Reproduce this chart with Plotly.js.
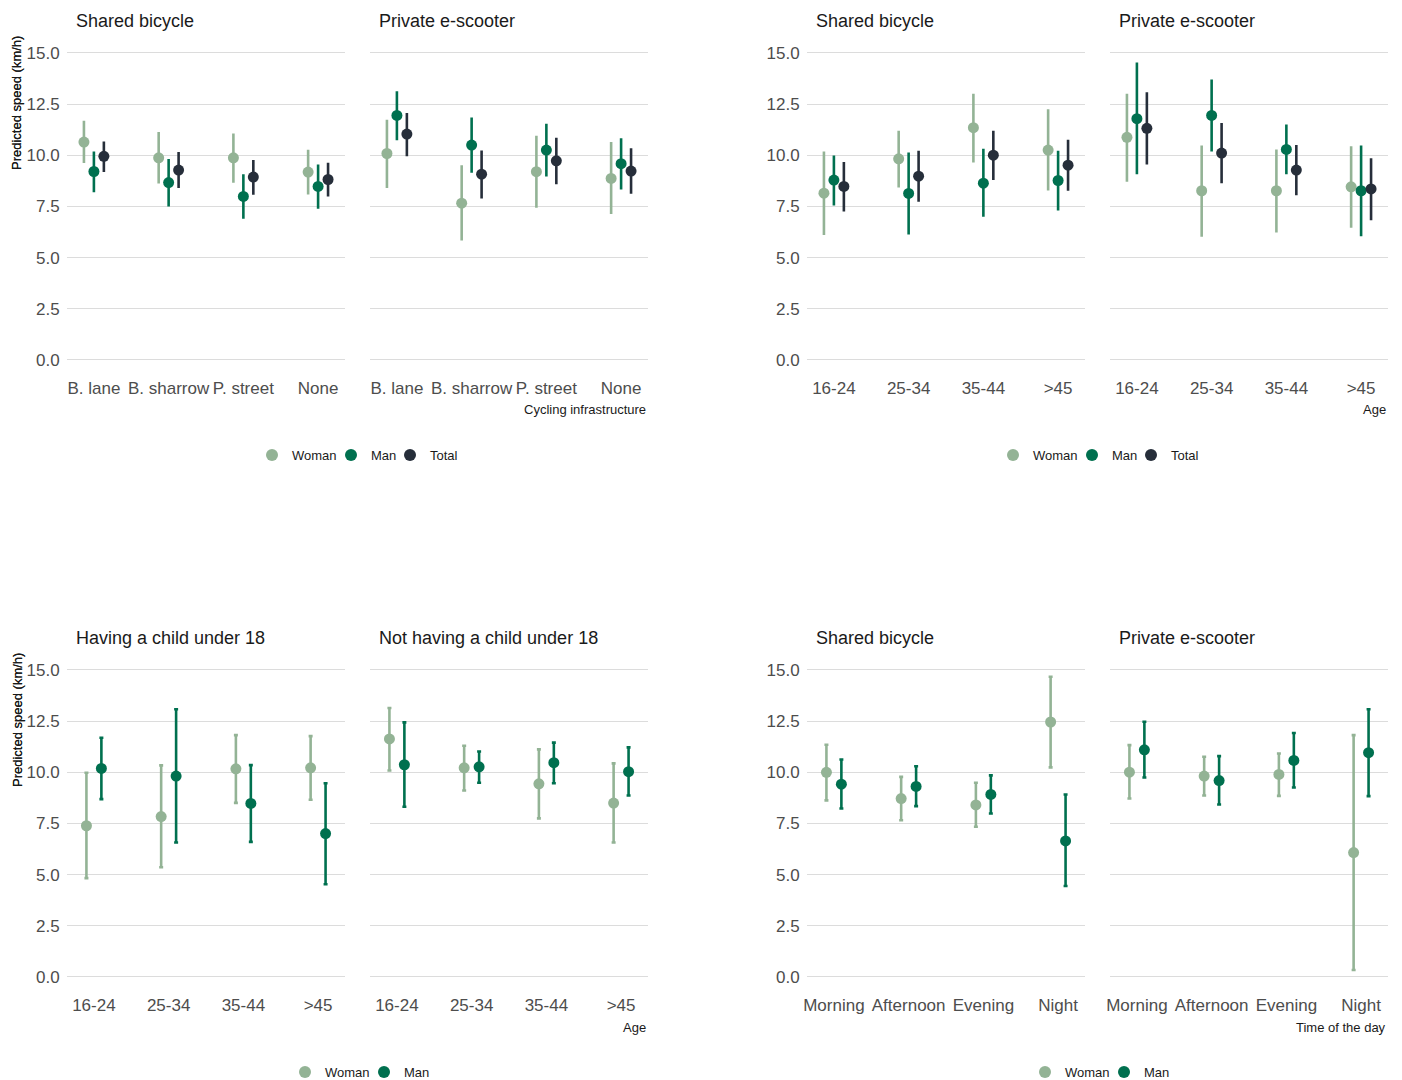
<!DOCTYPE html>
<html><head><meta charset="utf-8">
<script src="https://cdn.plot.ly/plotly-3.0.1.min.js"></script>
<style>html,body{margin:0;padding:0;background:#fff}#chart{width:1402px;height:1080px}</style>
</head><body><div id="chart"></div><script>
// ---------- categories ----------
const infraCats = ["B. lane", "B. sharrow", "P. street", "None"];
const ageCats = ["16-24", "25-34", "35-44", ">45"];
const timeCats = ["Morning", "Afternoon", "Evening", "Night"];

// ---------- Cycling infrastructure: Shared bicycle ----------
const infraBikeWoman   = [10.65, 9.88, 9.88, 9.18];
const infraBikeWomanLo = [9.62, 8.63, 8.66, 8.09];
const infraBikeWomanHi = [11.69, 11.14, 11.07, 10.27];
const infraBikeMan     = [9.21, 8.67, 7.99, 8.48];
const infraBikeManLo   = [8.20, 7.50, 6.90, 7.39];
const infraBikeManHi   = [10.19, 9.82, 9.08, 9.55];
const infraBikeTotal   = [9.95, 9.28, 8.94, 8.82];
const infraBikeTotalLo = [9.18, 8.40, 8.07, 7.99];
const infraBikeTotalHi = [10.68, 10.16, 9.77, 9.64];
// ---------- Cycling infrastructure: Private e-scooter ----------
const infraScootWoman   = [10.09, 7.66, 9.20, 8.87];
const infraScootWomanLo = [8.41, 5.84, 7.44, 7.13];
const infraScootWomanHi = [11.74, 9.51, 10.96, 10.65];
const infraScootMan     = [11.95, 10.50, 10.26, 9.59];
const infraScootManLo   = [10.74, 9.15, 8.97, 8.33];
const infraScootManHi   = [13.13, 11.85, 11.54, 10.84];
const infraScootTotal   = [11.04, 9.08, 9.73, 9.23];
const infraScootTotalLo = [9.96, 7.89, 8.59, 8.12];
const infraScootTotalHi = [12.07, 10.24, 10.86, 10.35];
// ---------- Age: Shared bicycle ----------
const ageBikeWoman   = [8.15, 9.83, 11.35, 10.26];
const ageBikeWomanLo = [6.11, 8.43, 9.65, 8.28];
const ageBikeWomanHi = [10.19, 11.20, 13.01, 12.25];
const ageBikeMan     = [8.79, 8.14, 8.64, 8.77];
const ageBikeManLo   = [7.55, 6.13, 7.00, 7.30];
const ageBikeManHi   = [9.99, 10.14, 10.32, 10.22];
const ageBikeTotal   = [8.48, 8.98, 10.01, 9.52];
const ageBikeTotalLo = [7.26, 7.73, 8.79, 8.27];
const ageBikeTotalHi = [9.67, 10.22, 11.20, 10.76];
// ---------- Age: Private e-scooter ----------
const ageScootWoman   = [10.88, 8.27, 8.27, 8.46];
const ageScootWomanLo = [8.71, 6.02, 6.23, 6.46];
const ageScootWomanHi = [13.01, 10.48, 10.29, 10.44];
const ageScootMan     = [11.79, 11.95, 10.29, 8.27];
const ageScootManLo   = [9.07, 10.19, 9.07, 6.05];
const ageScootManHi   = [14.54, 13.71, 11.51, 10.48];
const ageScootTotal   = [11.32, 10.11, 9.28, 8.36];
const ageScootTotalLo = [9.55, 8.64, 8.05, 6.83];
const ageScootTotalHi = [13.08, 11.58, 10.50, 9.86];
// ---------- Having a child under 18 ----------
const childYesWoman   = [7.39, 7.84, 10.17, 10.22];
const childYesWomanLo = [4.83, 5.36, 8.51, 8.66];
const childYesWomanHi = [9.98, 10.34, 11.82, 11.77];
const childYesMan     = [10.19, 9.82, 8.48, 7.01];
const childYesManLo   = [8.69, 6.57, 6.60, 4.53];
const childYesManHi   = [11.69, 13.08, 10.35, 9.47];
// ---------- Not having a child under 18 ----------
const childNoWoman   = [11.63, 10.22, 9.44, 8.50];
const childNoWomanLo = [10.09, 9.11, 7.75, 6.57];
const childNoWomanHi = [13.14, 11.30, 11.12, 10.44];
const childNoMan     = [10.37, 10.27, 10.47, 10.03];
const childNoManLo   = [8.32, 9.49, 9.47, 8.87];
const childNoManHi   = [12.44, 11.02, 11.45, 11.22];
// ---------- Time of the day: Shared bicycle ----------
const timeBikeWoman   = [10.00, 8.72, 8.41, 12.46];
const timeBikeWomanLo = [8.63, 7.66, 7.34, 10.24];
const timeBikeWomanHi = [11.35, 9.78, 9.49, 14.67];
const timeBikeMan     = [9.42, 9.31, 8.92, 6.65];
const timeBikeManLo   = [8.23, 8.35, 7.99, 4.45];
const timeBikeManHi   = [10.63, 10.30, 9.85, 8.92];
// ---------- Time of the day: Private e-scooter ----------
const timeScootWoman   = [10.01, 9.82, 9.90, 6.08];
const timeScootWomanLo = [8.72, 8.87, 8.85, 0.34];
const timeScootWomanHi = [11.33, 10.76, 10.92, 11.82];
const timeScootMan     = [11.10, 9.60, 10.58, 10.96];
const timeScootManLo   = [9.75, 8.43, 9.26, 8.84];
const timeScootManHi   = [12.47, 10.79, 11.92, 13.08];

const yTicks = [0, 2.5, 5, 7.5, 10, 12.5, 15];

// ---------- styling / layout helpers ----------
const W = 1402, H = 1080;
const px = v => v / W;
const py = v => 1 - v / H;
const FONT = '"Liberation Sans", Arial, sans-serif';
const colors = {Woman: '#93b395', Man: '#00704f', Total: '#262e3a'};
const legendEntryWidth = {Woman: 34, Man: 14, Total: 30};
const lastEntryWidth = 34;

const panels = [
  {cats: infraCats, title: 'Shared bicycle', x0: 67, x1: 345, row: 0, legend: 'legend', first: true, caps: false,
   series: [['Woman', infraBikeWoman, infraBikeWomanLo, infraBikeWomanHi], ['Man', infraBikeMan, infraBikeManLo, infraBikeManHi], ['Total', infraBikeTotal, infraBikeTotalLo, infraBikeTotalHi]]},
  {cats: infraCats, title: 'Private e-scooter', x0: 370, x1: 648, row: 0, legend: 'legend', first: false, caps: false, xTitle: 'Cycling infrastructure',
   series: [['Woman', infraScootWoman, infraScootWomanLo, infraScootWomanHi], ['Man', infraScootMan, infraScootManLo, infraScootManHi], ['Total', infraScootTotal, infraScootTotalLo, infraScootTotalHi]]},
  {cats: ageCats, title: 'Shared bicycle', x0: 807, x1: 1085, row: 0, legend: 'legend2', first: true, caps: false,
   series: [['Woman', ageBikeWoman, ageBikeWomanLo, ageBikeWomanHi], ['Man', ageBikeMan, ageBikeManLo, ageBikeManHi], ['Total', ageBikeTotal, ageBikeTotalLo, ageBikeTotalHi]]},
  {cats: ageCats, title: 'Private e-scooter', x0: 1110, x1: 1388, row: 0, legend: 'legend2', first: false, caps: false, xTitle: 'Age',
   series: [['Woman', ageScootWoman, ageScootWomanLo, ageScootWomanHi], ['Man', ageScootMan, ageScootManLo, ageScootManHi], ['Total', ageScootTotal, ageScootTotalLo, ageScootTotalHi]]},
  {cats: ageCats, title: 'Having a child under 18', x0: 67, x1: 345, row: 1, legend: 'legend3', first: true, caps: true,
   series: [['Woman', childYesWoman, childYesWomanLo, childYesWomanHi], ['Man', childYesMan, childYesManLo, childYesManHi]]},
  {cats: ageCats, title: 'Not having a child under 18', x0: 370, x1: 648, row: 1, legend: 'legend3', first: false, caps: true, xTitle: 'Age',
   series: [['Woman', childNoWoman, childNoWomanLo, childNoWomanHi], ['Man', childNoMan, childNoManLo, childNoManHi]]},
  {cats: timeCats, title: 'Shared bicycle', x0: 807, x1: 1085, row: 1, legend: 'legend4', first: true, caps: true,
   series: [['Woman', timeBikeWoman, timeBikeWomanLo, timeBikeWomanHi], ['Man', timeBikeMan, timeBikeManLo, timeBikeManHi]]},
  {cats: timeCats, title: 'Private e-scooter', x0: 1110, x1: 1388, row: 1, legend: 'legend4', first: false, caps: true, xTitle: 'Time of the day',
   series: [['Woman', timeScootWoman, timeScootWomanLo, timeScootWomanHi], ['Man', timeScootMan, timeScootManLo, timeScootManHi]]}
];

// row geometry: pixel of value 0 and value 15
const rows = [{y0: 360, y15: 53, titleY: 21, xTitleY: 409, legendY: 455},
              {y0: 977, y15: 670, titleY: 638, xTitleY: 1027, legendY: 1072}];
const yPad = 0.5; // value units of padding

const traces = [];
const layout = {
  width: W, height: H, autosize: false,
  margin: {l: 0, r: 0, t: 0, b: 0, pad: 0, autoexpand: false},
  paper_bgcolor: '#ffffff', plot_bgcolor: '#ffffff',
  font: {family: FONT, color: '#4d4d4d', size: 16},
  scattermode: 'group', scattergap: 0.6,
  showlegend: true,
  annotations: []
};

panels.forEach((p, i) => {
  const n = i + 1;
  const xa = 'x' + n, ya = 'y' + n;
  const r = rows[p.row];
  const unit = (r.y0 - r.y15) / 15;
  const top = r.y15 - yPad * unit, bottom = r.y0 + yPad * unit;

  layout['xaxis' + n] = {
    domain: [px(p.x0), px(p.x1)], anchor: ya, type: 'category',
    categoryorder: 'array', categoryarray: p.cats, range: [-0.36, 3.36],
    showgrid: false, zeroline: false, showline: false, tickangle: 0, automargin: false,
    ticks: 'outside', ticklen: 2, tickcolor: 'rgba(0,0,0,0)',
    tickfont: {family: FONT, size: 17, color: '#4d4d4d'}, fixedrange: true
  };
  layout['yaxis' + n] = {
    domain: [py(bottom), py(top)], anchor: xa, range: [-yPad, 15 + yPad],
    tickvals: yTicks, ticktext: yTicks.map(v => v.toFixed(1)), automargin: false,
    showgrid: true, gridcolor: '#dcdcdc', gridwidth: 1,
    zeroline: false, showline: false, showticklabels: p.first,
    ticks: 'outside', ticklen: 3, tickcolor: 'rgba(0,0,0,0)',
    tickfont: {family: FONT, size: 17, color: '#4d4d4d'}, fixedrange: true
  };

  p.series.forEach(([name, est, lo, hi], k) => {
    const isLast = k === p.series.length - 1;
    traces.push({
      type: 'scatter', mode: 'markers', name: name,
      x: p.cats, y: est, xaxis: xa, yaxis: ya,
      offsetgroup: name, alignmentgroup: 'g' + n,
      legend: p.legend, showlegend: p.first, legendgroup: p.legend + name,
      legendwidth: isLast ? lastEntryWidth : legendEntryWidth[name],
      marker: {color: colors[name], size: 11},
      error_y: {type: 'data', symmetric: false,
        array: est.map((v, j) => hi[j] - v),
        arrayminus: est.map((v, j) => v - lo[j]),
        color: colors[name], thickness: 2.6, width: p.caps ? 2 : 0},
      cliponaxis: false, hoverinfo: 'skip'
    });
  });

  layout.annotations.push({
    xref: 'paper', yref: 'paper', x: px(p.x0 + 7), y: py(r.titleY),
    xanchor: 'left', yanchor: 'middle', showarrow: false, text: p.title,
    font: {family: FONT, size: 18, color: '#1a1a1a'}
  });
  if (p.first) {
    layout.annotations.push({
      xref: 'paper', yref: 'paper', x: px(17), y: py(r.y15 + 50),
      xanchor: 'center', yanchor: 'middle', showarrow: false, textangle: -90,
      text: 'Predicted speed (km/h)', font: {family: FONT, size: 13, color: '#1a1a1a'}
    });
  }
  if (p.xTitle) {
    layout.annotations.push({
      xref: 'paper', yref: 'paper', x: px(p.x1), y: py(r.xTitleY),
      xanchor: 'right', yanchor: 'middle', showarrow: false, text: p.xTitle,
      font: {family: FONT, size: 13, color: '#1a1a1a'}
    });
  }
});

const legendBase = {orientation: 'h', xanchor: 'left', yanchor: 'middle',
  font: {family: FONT, size: 13, color: '#1a1a1a'}, itemsizing: 'constant',
  bgcolor: 'rgba(0,0,0,0)', borderwidth: 0, tracegroupgap: 0, entrywidthmode: 'pixels'};
layout.legend  = Object.assign({}, legendBase, {x: px(252), y: py(rows[0].legendY)});
layout.legend2 = Object.assign({}, legendBase, {x: px(993), y: py(rows[0].legendY)});
layout.legend3 = Object.assign({}, legendBase, {x: px(285), y: py(rows[1].legendY)});
layout.legend4 = Object.assign({}, legendBase, {x: px(1025), y: py(rows[1].legendY)});

Plotly.newPlot('chart', traces, layout, {displayModeBar: false, staticPlot: true});
</script></body></html>
